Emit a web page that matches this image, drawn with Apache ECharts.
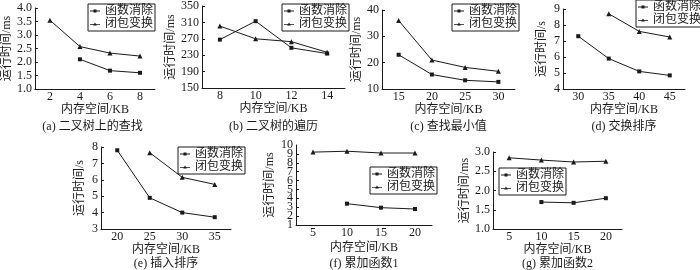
<!DOCTYPE html>
<html>
<head>
<meta charset="utf-8">
<script src="https://cdn.jsdelivr.net/npm/echarts@6/dist/echarts.min.js"></script>
<style>
html, body { margin: 0; padding: 0; background: #fff; }
#main { width: 700px; height: 270px; }
</style>
</head>
<body>
<div id="main"></div>
<script>
// 内存空间/KB
const xA = ['2', '4', '6', '8']
const xB = ['8', '10', '12', '14']
const xC = ['15', '20', '25', '30']
const xD = ['30', '35', '40', '45']
const xE = ['20', '25', '30', '35']
const xF = ['5', '10', '15', '20']
const xG = ['5', '10', '15', '20']

// 函数消除
const fnA = [null, 2.1, 1.68, 1.6]
const fnB = [268, 313, 248, 234]
const fnC = [23, 15.5, 13.3, 12.7]
const fnD = [7.3, 5.9, 5.1, 4.85]
const fnE = [7.8, 4.9, 4.0, 3.72]
const fnF = [null, 3.4, 2.95, 2.8]
const fnG = [null, 1.7, 1.68, 1.8]

// 闭包变换
const clA = [3.55, 2.57, 2.33, 2.22]
const clB = [301, 270, 263, 237]
const clC = [36, 21, 18.2, 16.7]
const clD = [null, 8.7, 7.6, 7.25]
const clE = [null, 7.65, 6.15, 5.72]
const clF = [9.2, 9.3, 9.1, 9.1]
const clG = [2.85, 2.79, 2.74, 2.76]

// y axis ranges
const yMin = [1, 150, 10, 4, 3, 1, 1]
const yMax = [4, 350, 40, 9, 8, 10, 3]
const yStep = [0.5, 40, 10, 1, 1, 1, 0.5]
const yDigits = [1, 0, 0, 0, 0, 0, 1]

const titles = ['(a) 二叉树上的查找', '(b) 二叉树的遍历', '(c) 查找最小值', '(d) 交换排序',
  '(e) 插入排序', '(f) 累加函数1', '(g) 累加函数2']
const yNames = ['运行时间/ms', '运行时间/ms', '运行时间/ms', '运行时间/s',
  '运行时间/s', '运行时间/ms', '运行时间/ms']
const xName = '内存空间/KB'
const legendNames = ['函数消除', '闭包变换']

const xs = [xA, xB, xC, xD, xE, xF, xG]
const fns = [fnA, fnB, fnC, fnD, fnE, fnF, fnG]
const cls = [clA, clB, clC, clD, clE, clF, clG]

// left, top, width, height, legend left, legend top, y name gap, x name gap, title top
const layout = [
  [30, 8, 125, 81, 88, 4, 20, 15, 121],
  [202, 5, 143, 83, 282, 4, 23, 15, 121],
  [382, 10, 133, 79, 452, 4, 16, 14, 121],
  [563, 9, 122, 80, 636, 0, 15, 14, 121],
  [101, 147, 130, 82, 178, 147, 15, 13, 258],
  [296, 145, 136, 80, 370, 167, 20, 17, 258],
  [493, 152, 129, 77, 499, 168, 19, 13, 258],
]

const FONT = "'Liberation Serif', 'Noto Sans CJK SC', serif"
const INK = '#1a1a1a'
// legend icons: line with a square / a triangle in the middle
const iconSquare = 'path://M0,1.1H10V1.9H0Z M3.5,0H6.5V3H3.5Z'
const iconTriangle = 'path://M0,1.4H10V2.2H0Z M5,0L6.8,3H3.2Z'

const grid = [], xAxis = [], yAxis = [], series = [], legend = [], title = []

function labelStyle(size) {
  return { fontFamily: FONT, fontSize: size, color: INK }
}

layout.forEach((l, i) => {
  const [left, top, width, height, lgLeft, lgTop, yGap, xGap, tTop] = l
  grid.push({ left, top, width, height, containLabel: false })
  xAxis.push({
    type: 'category',
    gridIndex: i,
    data: xs[i],
    boundaryGap: true,
    name: xName,
    nameLocation: 'middle',
    nameGap: xGap,
    nameTextStyle: labelStyle(12),
    axisLine: { lineStyle: { color: INK, width: 1 } },
    axisTick: { inside: true, length: 3, lineStyle: { color: INK } },
    axisLabel: { ...labelStyle(12), margin: 2 },
    splitLine: { show: false },
  })
  // (f) has ten labels packed tightly: odd ones here, even ones on a twin axis below
  const packed = i === 5
  yAxis.push({
    type: 'value',
    gridIndex: i,
    min: yMin[i],
    max: yMax[i],
    interval: yStep[i],
    name: yNames[i],
    nameLocation: 'middle',
    nameRotate: 90,
    nameGap: yGap,
    nameTextStyle: labelStyle(12),
    axisLine: { show: true, lineStyle: { color: INK, width: 1 } },
    axisTick: { show: true, inside: true, length: 3, lineStyle: { color: INK } },
    axisLabel: {
      ...labelStyle(12),
      margin: 3,
      showMinLabel: true,
      showMaxLabel: !packed,
      formatter: (v) => (packed && v % 2 === 0 ? '' : v.toFixed(yDigits[i])),
    },
    splitLine: { show: false },
  })
  series.push({
    name: legendNames[0],
    type: 'line',
    xAxisIndex: i,
    yAxisIndex: i,
    data: fns[i],
    symbol: 'rect',
    symbolSize: 4,
    lineStyle: { color: INK, width: 1 },
    itemStyle: { color: INK },
    animation: false,
  })
  series.push({
    name: legendNames[1],
    type: 'line',
    xAxisIndex: i,
    yAxisIndex: i,
    data: cls[i],
    symbol: 'triangle',
    symbolSize: 5,
    lineStyle: { color: INK, width: 1 },
    itemStyle: { color: INK },
    animation: false,
  })
  legend.push({
    data: [
      { name: legendNames[0], icon: iconSquare },
      { name: legendNames[1], icon: iconTriangle },
    ],
    left: lgLeft,
    top: lgTop,
    orient: 'vertical',
    padding: [1, 2],
    itemGap: 1,
    itemWidth: 10,
    itemHeight: 3,
    borderColor: INK,
    borderWidth: 1,
    borderRadius: 0,
    backgroundColor: '#fff',
    selectedMode: false,
    textStyle: { ...labelStyle(12), height: 12, lineHeight: 13 },
  })
  title.push({
    text: titles[i],
    left: left + width / 2,
    textAlign: 'center',
    top: tTop,
    textStyle: { ...labelStyle(12), fontWeight: 'normal' },
    padding: 0,
  })
})

// twin axis for the even labels of (f)
yAxis.push({
  type: 'value',
  gridIndex: 5,
  position: 'left',
  min: yMin[5],
  max: yMax[5],
  interval: yStep[5],
  axisLine: { show: false },
  axisTick: { show: false },
  axisLabel: {
    ...labelStyle(12),
    margin: 3,
    showMinLabel: false,
    showMaxLabel: true,
    formatter: (v) => (v % 2 === 0 ? String(v) : ''),
  },
  splitLine: { show: false },
})

const chart = echarts.init(document.getElementById('main'), null, { renderer: 'canvas' })
chart.setOption({
  animation: false,
  backgroundColor: '#fff',
  title,
  grid,
  xAxis,
  yAxis,
  legend,
  series,
})
</script>
</body>
</html>
